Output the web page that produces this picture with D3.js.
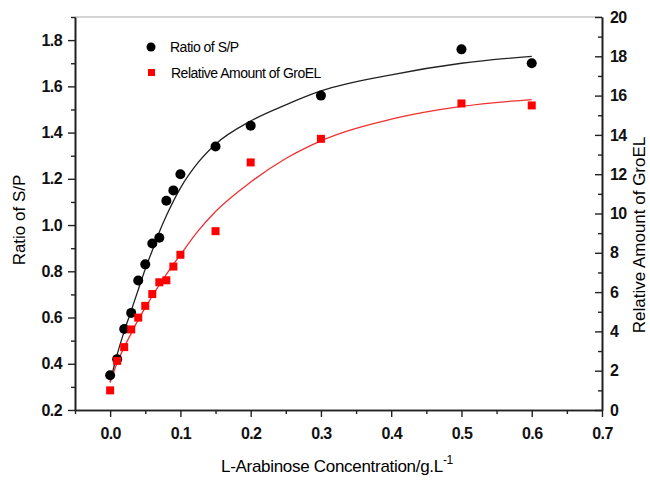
<!DOCTYPE html>
<html>
<head>
<meta charset="utf-8">
<script src="https://cdn.jsdelivr.net/npm/d3@7"></script>
<style>
body { margin: 0; background: #fff; }
text { font-family: "Liberation Sans", Arial, sans-serif; }
</style>
</head>
<body>
<div id="chart"></div>
<script>
// measured points
var conc = [0, 0.01, 0.02, 0.03, 0.04, 0.05, 0.06, 0.07, 0.08, 0.09, 0.1, 0.15, 0.2, 0.3, 0.5, 0.6];
var ratio_sp = [0.35, 0.42, 0.55, 0.62, 0.76, 0.83, 0.92, 0.945, 1.105, 1.15, 1.22, 1.34, 1.43, 1.56, 1.76, 1.70];
var groel = [1.0, 2.5, 3.2, 4.1, 4.7, 5.3, 5.9, 6.5, 6.6, 7.3, 7.9, 9.1, 12.6, 13.8, 15.6, 15.5];

// fitted curves
var fit_x_sp = [0, 0.01, 0.02, 0.03, 0.04, 0.05, 0.06, 0.07, 0.08, 0.1, 0.125, 0.15, 0.2, 0.25, 0.3, 0.4, 0.5, 0.6];
var fit_sp = [0.32, 0.44, 0.54, 0.63, 0.72, 0.81, 0.89, 0.97, 1.04, 1.16, 1.27, 1.35, 1.45, 1.52, 1.58, 1.65, 1.70, 1.73];
var fit_x_gro = [0, 0.01, 0.02, 0.03, 0.04, 0.05, 0.06, 0.08, 0.1, 0.125, 0.15, 0.2, 0.25, 0.3, 0.4, 0.5, 0.6];
var fit_gro = [1.4, 2.4, 3.2, 3.9, 4.6, 5.2, 5.8, 6.9, 7.9, 9.1, 10.1, 11.6, 12.8, 13.7, 14.8, 15.45, 15.8];

var x_ticks = [0, 0.1, 0.2, 0.3, 0.4, 0.5, 0.6, 0.7];
var y_ticks = [0.2, 0.4, 0.6, 0.8, 1.0, 1.2, 1.4, 1.6, 1.8];
var y2_ticks = [0, 2, 4, 6, 8, 10, 12, 14, 16, 18, 20];

var width = 650, height = 480;
var plot_left = 75, plot_right = 602, plot_top = 17, plot_bottom = 410;

var svg = d3.select("#chart").append("svg")
    .attr("width", width)
    .attr("height", height);

var x = d3.scaleLinear().domain([-0.05, 0.7]).range([plot_left, plot_right]);
var y = d3.scaleLinear().domain([0.2, 1.9]).range([plot_bottom, plot_top]);
var y2 = d3.scaleLinear().domain([0, 20]).range([plot_bottom, plot_top]);

// top frame line
svg.append("line")
    .attr("x1", plot_left).attr("x2", plot_right)
    .attr("y1", plot_top).attr("y2", plot_top)
    .attr("stroke", "#aaa").attr("stroke-width", 1.2);

function style_axis(g) {
    g.select(".domain").attr("stroke", "#222").attr("stroke-width", 1.6);
    g.selectAll(".tick line").attr("stroke", "#222").attr("stroke-width", 1.4);
    g.selectAll(".tick text")
	.attr("fill", "#111")
	.style("font-size", "16px")
	.style("font-weight", "bold")
	.style("letter-spacing", "-0.6px");
}

// minor ticks first, then major on top
svg.append("g")
    .attr("transform", "translate(0," + plot_bottom + ")")
    .call(d3.axisBottom(x).tickValues(d3.range(-0.05, 0.71, 0.1)).tickSize(4).tickFormat("").tickSizeOuter(0))
    .call(style_axis);
svg.append("g")
    .attr("transform", "translate(0," + plot_bottom + ")")
    .call(d3.axisBottom(x).tickValues(x_ticks).tickSize(7).tickPadding(11).tickFormat(d3.format(".1f")).tickSizeOuter(0))
    .call(style_axis);

svg.append("g")
    .attr("transform", "translate(" + plot_left + ",0)")
    .call(d3.axisLeft(y).tickValues(d3.range(0.3, 1.91, 0.2)).tickSize(4).tickFormat("").tickSizeOuter(0))
    .call(style_axis);
svg.append("g")
    .attr("transform", "translate(" + plot_left + ",0)")
    .call(d3.axisLeft(y).tickValues(y_ticks).tickSize(7).tickPadding(6).tickFormat(d3.format(".1f")).tickSizeOuter(0))
    .call(style_axis);

// right axis ticks point inward
svg.append("g")
    .attr("transform", "translate(" + plot_right + ",0)")
    .call(d3.axisRight(y2).tickValues(d3.range(1, 20, 2)).tickSize(-4).tickFormat("").tickSizeOuter(0))
    .call(style_axis);
svg.append("g")
    .attr("transform", "translate(" + plot_right + ",0)")
    .call(d3.axisRight(y2).tickValues(y2_ticks).tickSize(-7).tickPadding(8).tickSizeOuter(0))
    .call(style_axis);

// fitted lines
var sp_line = d3.line()
    .x(function(d, i) { return x(fit_x_sp[i]); })
    .y(function(d) { return y(d); })
    .curve(d3.curveMonotoneX);
var gro_line = d3.line()
    .x(function(d, i) { return x(fit_x_gro[i]); })
    .y(function(d) { return y2(d); })
    .curve(d3.curveMonotoneX);

svg.append("path").datum(fit_sp)
    .attr("d", sp_line)
    .attr("fill", "none").attr("stroke", "#222").attr("stroke-width", 1.3);
svg.append("path").datum(fit_gro)
    .attr("d", gro_line)
    .attr("fill", "none").attr("stroke", "#f03030").attr("stroke-width", 1.3);

// markers
svg.selectAll("circle.sp")
    .data(ratio_sp)
    .enter()
    .append("circle")
    .attr("class", "sp")
    .attr("cx", function(d, i) { return x(conc[i]); })
    .attr("cy", function(d) { return y(d); })
    .attr("r", 5)
    .attr("fill", "#000");

svg.selectAll("rect.gro")
    .data(groel)
    .enter()
    .append("rect")
    .attr("class", "gro")
    .attr("x", function(d, i) { return x(conc[i]) - 4; })
    .attr("y", function(d) { return y2(d) - 4; })
    .attr("width", 8)
    .attr("height", 8)
    .attr("fill", "#f00");

// legend
var leg = svg.append("g");
leg.append("circle").attr("cx", 151).attr("cy", 47).attr("r", 4.5).attr("fill", "#000");
leg.append("text").attr("x", 170).attr("y", 52)
    .style("font-size", "14px").style("letter-spacing", "-0.5px")
    .text("Ratio of S/P");
leg.append("rect").attr("x", 148).attr("y", 69).attr("width", 7).attr("height", 7).attr("fill", "#f00");
leg.append("text").attr("x", 171).attr("y", 78)
    .style("font-size", "14px").style("letter-spacing", "-0.5px")
    .text("Relative Amount of GroEL");

// axis titles
var xt = svg.append("text")
    .attr("x", 337).attr("y", 472)
    .attr("text-anchor", "middle")
    .style("font-size", "17px").style("letter-spacing", "-0.3px");
xt.append("tspan").text("L-Arabinose Concentration/g.L");
xt.append("tspan").attr("dy", -8).style("font-size", "12px").text("-1");

svg.append("text")
    .attr("transform", "translate(25,220) rotate(-90)")
    .attr("text-anchor", "middle")
    .style("font-size", "17px")
    .text("Ratio of S/P");

svg.append("text")
    .attr("transform", "translate(645,235) rotate(-90)")
    .attr("text-anchor", "middle")
    .style("font-size", "17px")
    .text("Relative Amount of GroEL");
</script>
</body>
</html>
